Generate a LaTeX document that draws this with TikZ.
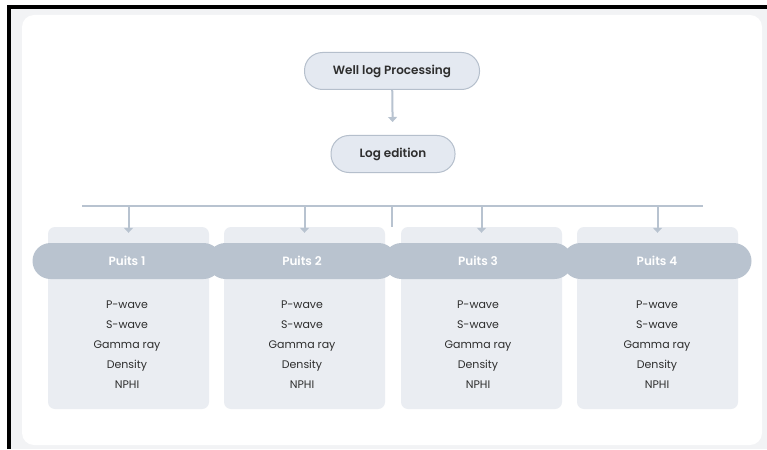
\documentclass[tikz,border=0pt]{standalone}
\usepackage{fontspec}
\setmainfont{Poppins}[BoldFont={* SemiBold}]
\usetikzlibrary{arrows.meta}

\definecolor{fond}{HTML}{F2F3F5}
\definecolor{pillfill}{HTML}{E4E9F1}
\definecolor{pilldraw}{HTML}{B5BFCC}
\definecolor{lien}{HTML}{B8C3D0}
\definecolor{cartefill}{HTML}{EAEDF2}
\definecolor{tetefill}{HTML}{B9C3CF}
\definecolor{texte}{HTML}{2E2E2E}

\tikzset{
	pill/.style={draw=pilldraw, fill=pillfill, line width=1pt, rounded corners=18pt,
		minimum height=37pt, text=texte, font=\fontsize{12}{14}\selectfont\bfseries},
	carte/.style={fill=cartefill, rounded corners=7pt, minimum width=161pt, minimum height=182pt},
	tete/.style={fill=tetefill, rounded corners=18pt, minimum width=189pt, minimum height=36pt,
		text=white, font=\fontsize{12}{14}\selectfont\bfseries},
	mesures/.style={align=center, text=texte, font=\fontsize{11}{20}\selectfont},
	lien/.style={draw=lien, line width=2pt},
	fleche/.style={lien, -{Triangle[width=9pt,length=5pt]}}
}

\begin{document}
\begin{tikzpicture}[x=1pt,y=-1pt]
	\useasboundingbox (0,0) rectangle (767,449);
	% cadre
	\fill[fond] (9,7) rectangle (767,449);
	\draw[line width=3.5pt] (9,449) -- (9,7) -- (767,7);
	\fill[white, rounded corners=12pt] (22,15) rectangle (762,445);

	\node[pill, minimum width=175pt] (wlp) at (392,71) {Well log Processing};
	\node[pill, minimum width=124pt] (edition) at (393,154) {Log edition};
	\draw[fleche, shorten >=13pt] (wlp) -- (edition);

	% barre
	\coordinate (barreG) at (82,206);
	\coordinate (barreD) at (703,206);
	\coordinate (barreM) at (392,206);
	\draw[lien] (barreG) -- (barreD);
	\draw[lien] (barreM) -- ++(0,21);

	% puits
	\foreach \i/\x in {1/128.5, 2/304.5, 3/481.5, 4/657.5} {
		\node[carte] (carte\i) at (\x,318) {};
	}
	\foreach \i/\x in {1/127, 2/302, 3/478, 4/657} {
		\node[tete] (puits\i) at (\x,261) {Puits \i};
		\node[mesures] (mes\i) at (\x,345) {P-wave\\S-wave\\Gamma ray\\Density\\NPHI};
	}
	\foreach \i in {1,...,4}
		\draw[fleche] (barreG -| carte\i) -- ([yshift=-6pt]carte\i.north);
\end{tikzpicture}
\end{document}
